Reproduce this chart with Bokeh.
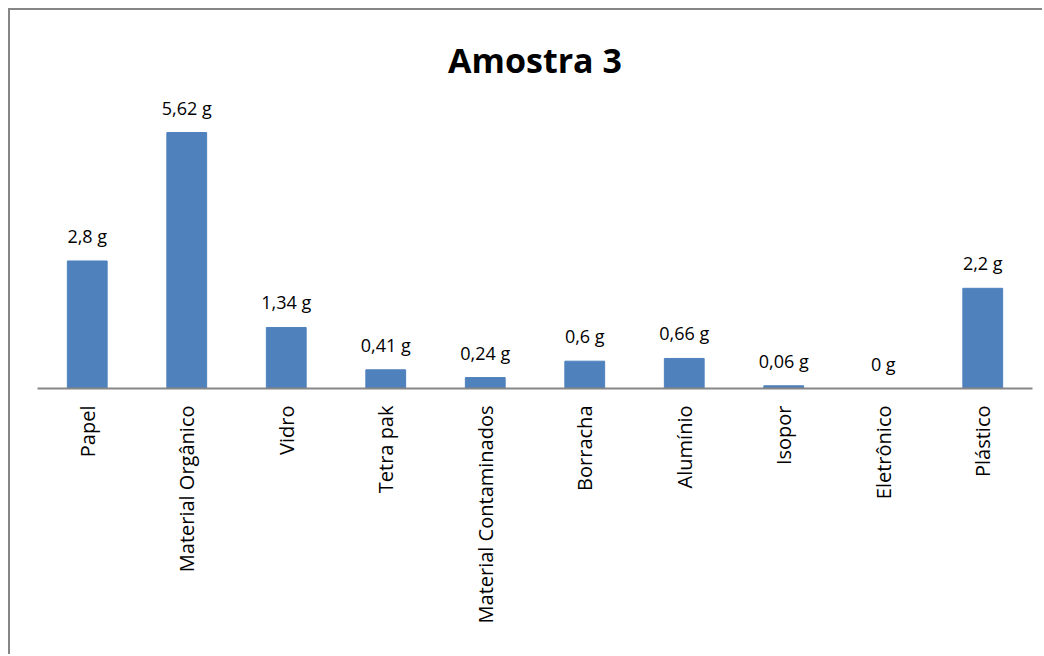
import math
from bokeh.plotting import figure
from bokeh.models import ColumnDataSource, FactorRange, Range1d, LabelSet, Label
from bokeh.core.properties import value
from bokeh.embed import file_html
from bokeh.resources import INLINE

categories = ["Papel", "Material Orgânico", "Vidro", "Tetra pak", "Material Contaminados",
              "Borracha", "Alumínio", "Isopor", "Eletrônico", "Plástico"]
values = [2.8, 5.62, 1.34, 0.41, 0.24, 0.6, 0.66, 0.06, 0.0, 2.2]
value_labels = ["2,8 g", "5,62 g", "1,34 g", "0,41 g", "0,24 g", "0,6 g", "0,66 g", "0,06 g", "0 g", "2,2 g"]
title_text = "Amostra 3"

src = ColumnDataSource(dict(cat=categories, val=values, lab=value_labels))

# canvas starts at x=10,y=10 because of CSS margin+border
p = figure(width=1034, height=646, x_range=FactorRange(*categories, range_padding=0),
           y_range=Range1d(0, 8.3), output_backend="svg", toolbar_location=None,
           min_border_left=27, min_border_right=12, min_border_top=0, min_border_bottom=268)
p.styles = {"margin-left": "8px", "margin-top": "8px",
            "border-left": "2px solid #868686", "border-top": "2px solid #868686"}

p.vbar(x="cat", top="val", width=0.4, source=src, color="#4F81BD")

p.add_layout(LabelSet(x="cat", y="val", text="lab", source=src, text_align="center",
                      text_baseline="alphabetic", y_offset=18, text_font=value("Open Sans"),
                      text_font_size="18px", text_color="black"))

p.add_layout(Label(x=5, y=7.22, text=title_text, text_align="center", text_baseline="alphabetic",
                   text_font="Open Sans", text_font_size="34px", text_font_style="bold",
                   text_color="black"))

p.yaxis.visible = False
p.ygrid.visible = False
p.xgrid.visible = False
p.outline_line_color = None

ax = p.xaxis[0]
ax.axis_line_color = "#868686"
ax.axis_line_width = 2
ax.major_tick_line_color = None
ax.minor_tick_line_color = None
ax.major_label_orientation = math.pi / 2
ax.major_label_text_font = "Open Sans"
ax.major_label_text_font_size = "20px"
ax.major_label_text_color = "black"
ax.major_label_standoff = 11

open("out.html", "w").write(file_html(p, INLINE))
